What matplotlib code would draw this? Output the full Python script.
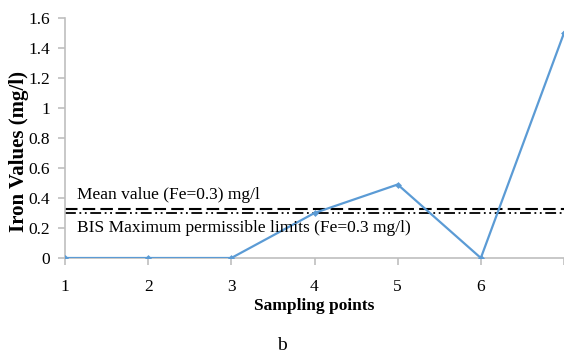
import matplotlib
matplotlib.use("Agg")
import matplotlib.pyplot as plt

# Iron concentration at each sampling point
sampling_points = [1, 2, 3, 4, 5, 6, 7]
iron_values = [0.0, 0.0, 0.0, 0.30, 0.49, 0.0, 1.50]

mean_value = 0.33
bis_limit = 0.30

y_ticks = [0, 0.2, 0.4, 0.6, 0.8, 1.0, 1.2, 1.4, 1.6]
y_tick_labels = ["0", "0.2", "0.4", "0.6", "0.8", "1", "1.2", "1.4", "1.6"]
x_tick_labels = ["1", "2", "3", "4", "5", "6", ""]

plt.rcParams["font.family"] = ["Liberation Serif", "DejaVu Serif"]

fig = plt.figure(figsize=(5.64, 3.56), dpi=100)
ax = fig.add_axes([65 / 564, 1 - 258 / 356, 1 - 65 / 564, (258 - 18) / 356])

blue = "#5b9bd5"
ax.plot(sampling_points, iron_values, color=blue, lw=1.6, marker="D",
        markersize=3.5, markeredgewidth=0, zorder=3)

ax.axhline(mean_value, color="black", lw=1.5, ls=(0, (6, 2.5)), zorder=2)
ax.axhline(bis_limit, color="black", lw=1.3, ls=(0, (6, 2, 1, 2, 1, 2)), zorder=2)

ax.text(1.15, 0.365, "Mean value (Fe=0.3) mg/l", fontsize=12.5, va="bottom", ha="left")
ax.text(1.15, 0.20, "BIS Maximum permissible limits (Fe=0.3 mg/l)", fontsize=12.5,
        va="center", ha="left")

ax.set_xlim(1, 6.93)
ax.set_ylim(0, 1.6)
ax.set_yticks(y_ticks)
ax.set_yticklabels(y_tick_labels, fontsize=12.5)
ax.set_xticks(sampling_points)
ax.set_xticklabels(x_tick_labels, fontsize=12.5)

for side in ["top", "right"]:
    ax.spines[side].set_visible(False)
for side in ["left", "bottom"]:
    ax.spines[side].set_color("#bfbfbf")
    ax.spines[side].set_linewidth(1.2)
ax.tick_params(axis="both", colors="#bfbfbf", labelcolor="black", length=5, width=1.2,
               direction="out")
ax.tick_params(axis="x", pad=10)
ax.tick_params(axis="y", pad=6)

ax.set_xlabel("Sampling points", fontsize=12.5, fontweight="bold", labelpad=2)
fig.text(19 / 564, 1 - 151 / 356, "Iron Values (mg/l)", fontsize=15, fontweight="bold",
         rotation=90, ha="center", va="center")

fig.text(282 / 564, 1 - 345 / 356, "b", fontsize=14, ha="center", va="center")

fig.savefig("out.png", dpi=100)
